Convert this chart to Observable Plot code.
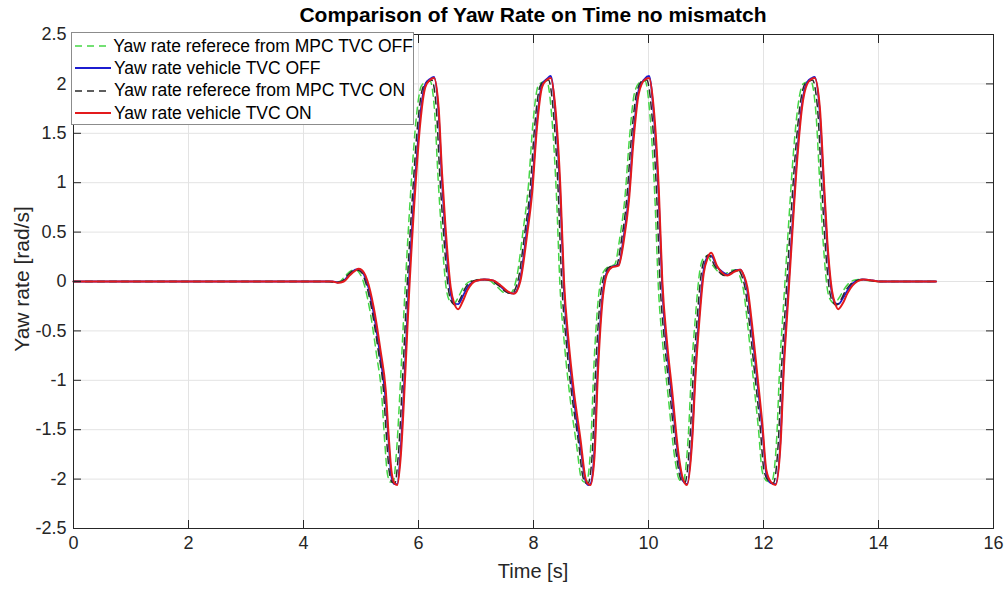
<!DOCTYPE html>
<html><head><meta charset="utf-8">
<script src="https://cdn.jsdelivr.net/npm/d3@7"></script>
<script src="https://cdn.jsdelivr.net/npm/@observablehq/plot@0.6"></script>
<style>
body{margin:0;background:#fff;font-family:"Liberation Sans",Arial,sans-serif;}
#wrap{position:relative;width:1008px;height:590px;overflow:hidden;}
#title{position:absolute;left:73px;width:920px;top:3px;text-align:center;font-weight:bold;font-size:21px;color:#000;}
#xlabel{position:absolute;left:73px;width:920px;top:560px;text-align:center;font-size:20px;color:#262626;}
#ylabel{position:absolute;left:22px;top:279px;transform:translate(-50%,-50%) rotate(-90deg);font-size:21px;white-space:nowrap;color:#262626;}
#legend{position:absolute;left:71px;top:32px;width:343px;height:93px;border:1px solid #8c8c8c;background:#fff;box-sizing:border-box;padding-top:2px;}
.row{height:22.3px;display:flex;align-items:center;font-size:17.5px;color:#000;white-space:nowrap;}
.row svg{margin-left:3px;margin-right:3px;}
</style></head>
<body><div id="wrap"><div id="title"></div><div id="xlabel"></div><div id="ylabel"></div><div id="legend"></div></div>
<script>
const titleText = "Comparison of Yaw Rate on Time no mismatch";
const xLabel = "Time [s]";
const yLabel = "Yaw rate [rad/s]";
const xTicks = [0, 2, 4, 6, 8, 10, 12, 14, 16];
const yTicks = [-2.5, -2, -1.5, -1, -0.5, 0, 0.5, 1, 1.5, 2, 2.5];
const seriesNames = ["Yaw rate referece from MPC TVC OFF", "Yaw rate vehicle TVC OFF", "Yaw rate referece from MPC TVC ON", "Yaw rate vehicle TVC ON"];
const seriesColors = ["#45d645", "#1c1cd0", "#2a2a2a", "#e31a1c"];
const seriesDash = ["7,5", null, "7,5", null];
const seriesWidth = [1.5, 1.8, 1.5, 2];

// vehicle time samples (s)
const vehTime = [
0, 4.5, 4.6, 4.7, 4.8, 4.9, 4.96, 5.05, 5.11, 5.22,
5.34, 5.43, 5.48, 5.53, 5.58, 5.63, 5.69, 5.77, 5.83, 5.95,
6.03, 6.12, 6.2, 6.27, 6.35, 6.41, 6.47, 6.56, 6.62, 6.69,
6.77, 6.85, 6.93, 7.02, 7.15, 7.3, 7.43, 7.55, 7.66, 7.77,
7.89, 7.98, 8.06, 8.15, 8.23, 8.30, 8.38, 8.47, 8.53, 8.61,
8.70, 8.82, 8.90, 8.95, 8.99, 9.06, 9.12, 9.19, 9.28, 9.37,
9.48, 9.57, 9.66, 9.74, 9.83, 9.93, 10.01, 10.09, 10.18, 10.24,
10.32, 10.41, 10.53, 10.60, 10.67, 10.76, 10.82, 10.88, 10.96, 11.03,
11.09, 11.19, 11.28, 11.37, 11.50, 11.60, 11.66, 11.72, 11.80, 11.89,
11.98, 12.05, 12.13, 12.21, 12.30, 12.35, 12.42, 12.50, 12.59, 12.67,
12.76, 12.84, 12.89, 12.98, 13.05, 13.11, 13.19, 13.25, 13.30, 13.38,
13.46, 13.55, 13.63, 13.74, 13.9, 14.03, 15.0];

// reference (MPC) time samples (s)
const refOffTime = [
0, 4.43, 4.53, 4.63, 4.73, 4.83, 4.89, 4.98, 5.04, 5.15,
5.27, 5.36, 5.41, 5.46, 5.51, 5.56, 5.62, 5.70, 5.76, 5.88,
5.96, 6.05, 6.13, 6.20, 6.28, 6.34, 6.40, 6.49, 6.55, 6.62,
6.70, 6.78, 6.86, 6.95, 7.08, 7.23, 7.36, 7.48, 7.59, 7.70,
7.82, 7.91, 7.99, 8.08, 8.16, 8.23, 8.31, 8.40, 8.46, 8.54,
8.63, 8.75, 8.83, 8.88, 8.92, 8.99, 9.05, 9.12, 9.21, 9.30,
9.41, 9.50, 9.59, 9.67, 9.76, 9.86, 9.94, 10.02, 10.11, 10.17,
10.25, 10.34, 10.46, 10.53, 10.60, 10.69, 10.75, 10.81, 10.89, 10.96,
11.02, 11.12, 11.21, 11.30, 11.43, 11.53, 11.59, 11.65, 11.73, 11.82,
11.91, 11.98, 12.06, 12.14, 12.23, 12.28, 12.35, 12.43, 12.52, 12.60,
12.69, 12.77, 12.82, 12.91, 12.98, 13.04, 13.12, 13.18, 13.23, 13.31,
13.39, 13.48, 13.56, 13.67, 13.83, 13.96, 15.0];

const refOnTime = [
0, 4.46, 4.56, 4.66, 4.76, 4.86, 4.92, 5.01, 5.07, 5.18,
5.30, 5.39, 5.44, 5.49, 5.54, 5.59, 5.65, 5.73, 5.79, 5.91,
5.99, 6.08, 6.16, 6.23, 6.31, 6.37, 6.43, 6.52, 6.58, 6.65,
6.73, 6.81, 6.89, 6.98, 7.11, 7.26, 7.39, 7.51, 7.62, 7.73,
7.85, 7.94, 8.02, 8.11, 8.19, 8.26, 8.34, 8.43, 8.49, 8.57,
8.66, 8.78, 8.86, 8.91, 8.95, 9.02, 9.08, 9.15, 9.24, 9.33,
9.44, 9.53, 9.62, 9.70, 9.79, 9.89, 9.97, 10.05, 10.14, 10.20,
10.28, 10.37, 10.49, 10.56, 10.63, 10.72, 10.78, 10.84, 10.92, 10.99,
11.05, 11.15, 11.24, 11.33, 11.46, 11.56, 11.62, 11.68, 11.76, 11.85,
11.94, 12.01, 12.09, 12.17, 12.26, 12.31, 12.38, 12.46, 12.55, 12.63,
12.72, 12.80, 12.85, 12.94, 13.01, 13.07, 13.15, 13.21, 13.26, 13.34,
13.42, 13.51, 13.59, 13.70, 13.86, 13.99, 15.0];

const refOffYaw = [
0, 0, -0.01, 0, 0.06, 0.11, 0.12, 0.08, 0, -0.28,
-0.74, -1.15, -1.6, -1.95, -2.03, -2.03, -1.7, -0.85, -0.15, 1.05,
1.65, 1.98, 2.02, 2.03, 1.72, 1.05, 0.5, -0.1, -0.2, -0.22,
-0.15, -0.06, -0.01, 0.01, 0.02, 0.01, -0.05, -0.11, -0.12, 0.02,
0.52, 0.96, 1.6, 1.98, 2.02, 2.03, 1.72, 0.86, -0.04, -0.65,
-1.15, -1.66, -1.99, -2.03, -2.03, -1.72, -0.86, -0.22, 0.09, 0.15,
0.17, 0.44, 0.85, 1.46, 1.92, 2.02, 2.03, 1.72, 0.86, -0.04,
-0.65, -1.15, -1.8, -2.0, -2.03, -1.58, -0.88, -0.4, 0.1, 0.24,
0.26, 0.16, 0.1, 0.07, 0.11, 0.12, 0.05, -0.08, -0.47, -0.97,
-1.48, -1.93, -2.02, -2.03, -1.58, -0.88, -0.22, 0.52, 1.3, 1.78,
2.0, 2.02, 2.03, 1.72, 0.98, 0.38, -0.11, -0.2, -0.22, -0.17,
-0.09, -0.02, 0.01, 0.02, 0.01, 0, 0];

const vehOffYaw = [
0, 0, -0.01, 0.01, 0.07, 0.12, 0.125, 0.07, -0.02, -0.32,
-0.78, -1.2, -1.62, -1.98, -2.05, -2.05, -1.7, -0.8, -0.05, 1.1,
1.68, 2.0, 2.05, 2.07, 1.7, 1.0, 0.45, -0.12, -0.22, -0.23,
-0.15, -0.06, -0.01, 0.01, 0.02, 0.01, -0.05, -0.11, -0.12, 0.03,
0.55, 1.0, 1.62, 2.0, 2.05, 2.08, 1.7, 0.82, -0.08, -0.68,
-1.18, -1.68, -2.01, -2.06, -2.05, -1.7, -0.82, -0.2, 0.1, 0.15,
0.17, 0.46, 0.88, 1.5, 1.94, 2.05, 2.08, 1.7, 0.82, -0.08,
-0.68, -1.18, -1.83, -2.02, -2.05, -1.55, -0.85, -0.36, 0.12, 0.25,
0.26, 0.15, 0.1, 0.07, 0.11, 0.12, 0.05, -0.1, -0.5, -1.0,
-1.5, -1.95, -2.04, -2.05, -1.55, -0.85, -0.18, 0.55, 1.32, 1.8,
2.02, 2.06, 2.07, 1.7, 0.95, 0.35, -0.12, -0.22, -0.23, -0.17,
-0.09, -0.02, 0.01, 0.02, 0.01, 0, 0];

const refOnYaw = [
0, 0, -0.01, 0, 0.06, 0.11, 0.12, 0.09, 0.01, -0.26,
-0.7, -1.1, -1.55, -1.92, -2.03, -2.04, -1.75, -0.9, -0.18, 1.0,
1.62, 1.97, 2.02, 2.04, 1.75, 1.08, 0.54, -0.08, -0.21, -0.24,
-0.17, -0.07, -0.01, 0.01, 0.02, 0.01, -0.04, -0.1, -0.12, 0.01,
0.5, 0.93, 1.57, 1.97, 2.03, 2.04, 1.75, 0.9, 0, -0.62,
-1.12, -1.62, -1.98, -2.04, -2.04, -1.76, -0.9, -0.24, 0.08, 0.15,
0.16, 0.42, 0.83, 1.44, 1.9, 2.03, 2.04, 1.75, 0.9, 0,
-0.62, -1.12, -1.78, -2.0, -2.04, -1.6, -0.92, -0.42, 0.09, 0.24,
0.27, 0.16, 0.09, 0.06, 0.1, 0.12, 0.06, -0.07, -0.45, -0.95,
-1.46, -1.92, -2.02, -2.04, -1.6, -0.92, -0.25, 0.5, 1.27, 1.76,
2.0, 2.03, 2.04, 1.75, 1.0, 0.4, -0.1, -0.21, -0.24, -0.19,
-0.1, -0.03, 0, 0.02, 0.01, 0, 0];

const vehOnYaw = [
0, 0, -0.013, 0, 0.06, 0.11, 0.128, 0.09, 0.01, -0.26,
-0.7, -1.1, -1.55, -1.92, -2.04, -2.06, -1.78, -0.93, -0.19, 0.99,
1.6, 1.97, 2.04, 2.06, 1.76, 1.09, 0.55, -0.06, -0.22, -0.28,
-0.2, -0.09, -0.02, 0.01, 0.02, 0.01, -0.04, -0.1, -0.125, 0,
0.48, 0.92, 1.56, 1.97, 2.04, 2.06, 1.76, 0.92, 0.01, -0.6,
-1.1, -1.61, -1.98, -2.05, -2.06, -1.78, -0.93, -0.26, 0.08, 0.145,
0.16, 0.41, 0.82, 1.43, 1.9, 2.04, 2.06, 1.76, 0.92, 0.01,
-0.6, -1.1, -1.78, -2.0, -2.06, -1.61, -0.93, -0.43, 0.08, 0.24,
0.29, 0.16, 0.09, 0.06, 0.1, 0.12, 0.06, -0.06, -0.43, -0.93,
-1.44, -1.91, -2.03, -2.06, -1.61, -0.93, -0.26, 0.48, 1.26, 1.76,
2.0, 2.05, 2.06, 1.76, 1.02, 0.41, -0.09, -0.23, -0.28, -0.22,
-0.12, -0.04, 0, 0.02, 0.01, 0, 0];

const seriesTimes = [refOffTime, vehTime, refOnTime, vehTime];
const seriesValues = [refOffYaw, vehOffYaw, refOnYaw, vehOnYaw];

document.getElementById("title").textContent = titleText;
document.getElementById("xlabel").textContent = xLabel;
document.getElementById("ylabel").textContent = yLabel;

const fmt = d => String(d);
const lineMarks = seriesValues.map((vals, i) => Plot.line(vals, {
  x: seriesTimes[i], y: vals, stroke: seriesColors[i], strokeWidth: seriesWidth[i],
  strokeDasharray: seriesDash[i] || undefined, curve: "monotone-x"
}));

const chart = Plot.plot({
  width: 1008, height: 590,
  marginTop: 34, marginLeft: 73, marginRight: 15, marginBottom: 62,
  style: {fontFamily: "'Liberation Sans', Arial, sans-serif", fontSize: "18px", color: "#262626", background: "transparent"},
  x: {domain: [0, 16], label: null},
  y: {domain: [-2.5, 2.5], label: null},
  marks: [
    Plot.gridX(xTicks, {stroke: "#e3e3e3", strokeOpacity: 1}),
    Plot.gridY(yTicks, {stroke: "#e3e3e3", strokeOpacity: 1}),
    ...lineMarks,
    Plot.frame({stroke: "#262626", strokeWidth: 1}),
    Plot.axisX(xTicks, {anchor: "bottom", tickSize: 0, tickPadding: 8, tickFormat: fmt, fill: "#262626", fontSize: 18}),
    Plot.axisY(yTicks, {anchor: "left", tickSize: 0, tickPadding: 7, tickFormat: fmt, fill: "#262626", fontSize: 18}),
    Plot.axisX(xTicks, {anchor: "bottom", tickSize: 8, dy: -8, tickFormat: () => "", stroke: "#262626"}),
    Plot.axisX(xTicks, {anchor: "top", tickSize: 8, dy: 8, tickFormat: () => "", stroke: "#262626"}),
    Plot.axisY(yTicks, {anchor: "left", tickSize: 8, dx: 8, tickFormat: () => "", stroke: "#262626"}),
    Plot.axisY(yTicks, {anchor: "right", tickSize: 8, dx: -8, tickFormat: () => "", stroke: "#262626"})
  ]
});
chart.style.position = "absolute";
chart.style.left = "0px";
chart.style.top = "0px";
const wrap = document.getElementById("wrap");
wrap.insertBefore(chart, wrap.firstChild);

const legend = document.getElementById("legend");
seriesNames.forEach((name, i) => {
  const row = document.createElement("div");
  row.className = "row";
  const dash = seriesDash[i] ? `stroke-dasharray="${seriesDash[i]}"` : "";
  row.innerHTML = `<svg width="36" height="10"><line x1="0" y1="5" x2="36" y2="5" stroke="${seriesColors[i]}" stroke-width="${seriesWidth[i]}" ${dash}/></svg><span></span>`;
  row.querySelector("span").textContent = name;
  legend.appendChild(row);
});
</script></body></html>
